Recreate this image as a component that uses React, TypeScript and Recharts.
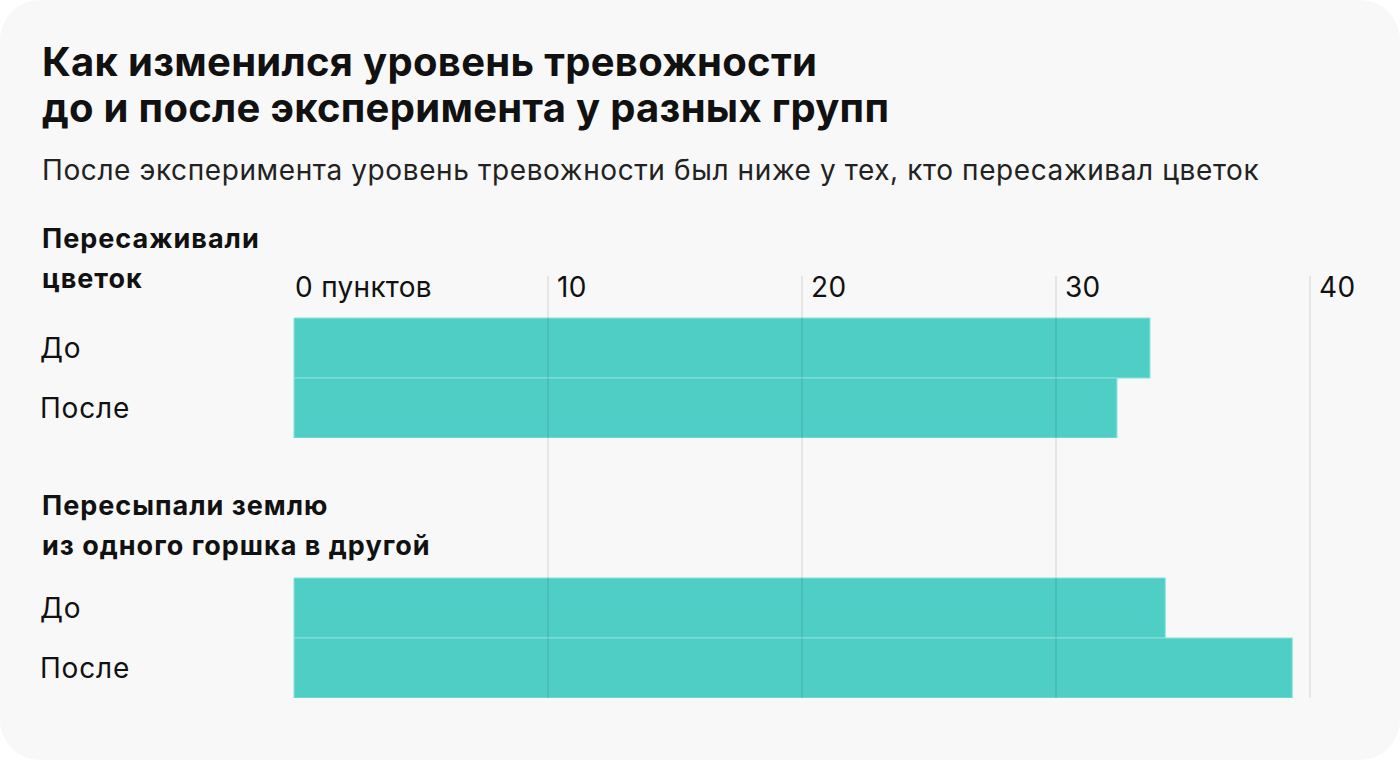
import React from 'react';
import { BarChart, Bar, XAxis, YAxis, ReferenceLine } from 'recharts';

const title = ['Как изменился уровень тревожности', 'до и после эксперимента у разных групп'];
const subtitle = 'После эксперимента уровень тревожности был ниже у тех, кто пересаживал цветок';

const groupNames = [
  ['Пересаживали', 'цветок'],
  ['Пересыпали землю', 'из одного горшка в другой'],
];
const periods = ['До', 'После'];
const transplantValues = [33.7, 32.4];
const soilValues = [34.3, 39.3];

const tickValues = [0, 10, 20, 30, 40];
const gridValues = [10, 20, 30, 40];

const FONT = 'Inter, "Liberation Sans", Arial, sans-serif';
const BAR_FILL = '#4fcec5';
const BAR_STROKE = '#88e2dc';
const CHART_W = 1400;

const toRows = (values: number[]) => periods.map((p, i) => ({ period: p, value: values[i] }));

const PeriodTick = (props: any) => {
  const { y, payload } = props;
  return (
    <text x={40} y={y} dy={10} fontSize={28} letterSpacing={0.8} fontFamily={FONT} fill="#111" textAnchor="start">
      {payload.value}
    </text>
  );
};

const ValueTick = (props: any) => {
  const { x, payload } = props;
  const label = payload.value === 0 ? '0 пунктов' : String(payload.value);
  return (
    <text
      x={payload.value === 0 ? x + 1 : x + 9}
      y={61}
      fontSize={28}
      letterSpacing={0.3}
      fontFamily={FONT}
      fill="#111"
      textAnchor="start"
    >
      {label}
    </text>
  );
};

const GroupChart = ({ values, height, padTop, showTicks }: { values: number[]; height: number; padTop: number; showTicks: boolean }) => (
  <BarChart
    width={CHART_W}
    height={height}
    data={toRows(values)}
    layout="vertical"
    margin={{ top: 0, right: 90, bottom: 0, left: 0 }}
    barCategoryGap={0}
  >
    <XAxis
      type="number"
      domain={[0, 40]}
      ticks={tickValues}
      orientation="top"
      height={showTicks ? 40 : 0}
      axisLine={false}
      tickLine={false}
      hide={!showTicks}
      tick={<ValueTick />}
      interval={0}
    />
    <YAxis
      type="category"
      dataKey="period"
      width={294}
      axisLine={false}
      tickLine={false}
      padding={{ top: padTop, bottom: 0 }}
      tick={<PeriodTick />}
    />
    <Bar dataKey="value" fill={BAR_FILL} stroke={BAR_STROKE} strokeWidth={1} isAnimationActive={false} />
    {gridValues.map((v) => (
      <ReferenceLine key={v} x={v} stroke="#000" strokeOpacity={0.075} strokeWidth={2} />
    ))}
  </BarChart>
);

const GroupTitle = ({ lines, top }: { lines: string[]; top: number }) => (
  <div
    style={{
      position: 'absolute',
      left: 42,
      top,
      fontFamily: FONT,
      fontWeight: 700,
      fontSize: 27,
      letterSpacing: 1,
      lineHeight: '40px',
      color: '#111',
      whiteSpace: 'nowrap',
    }}
  >
    {lines.map((l) => (
      <div key={l}>{l}</div>
    ))}
  </div>
);

export default function App() {
  return (
    <div style={{ position: 'absolute', left: 0, top: 0, width: 1400, height: 760, background: '#fff' }}>
      <div
        style={{
          position: 'absolute',
          left: 0,
          top: 0,
          width: 1400,
          height: 760,
          background: '#f8f8f8',
          borderRadius: 40,
          overflow: 'hidden',
        }}
      >
        <div
          style={{
            position: 'absolute',
            left: 42,
            top: 39,
            fontFamily: FONT,
            fontWeight: 700,
            fontSize: 40,
            letterSpacing: 0.3,
            lineHeight: '46px',
            color: '#111',
            whiteSpace: 'nowrap',
          }}
        >
          {title.map((l) => (
            <div key={l}>{l}</div>
          ))}
        </div>
        <div
          style={{
            position: 'absolute',
            left: 42,
            top: 153,
            fontFamily: FONT,
            fontSize: 28,
            letterSpacing: 0.6,
            lineHeight: '34px',
            color: '#222',
            whiteSpace: 'nowrap',
          }}
        >
          {subtitle}
        </div>

        <GroupTitle lines={groupNames[0]} top={219} />
        <GroupTitle lines={groupNames[1]} top={486} />

        <div style={{ position: 'absolute', left: 0, top: 236 }}>
          <GroupChart values={transplantValues} height={202} padTop={42} showTicks />
        </div>
        <div style={{ position: 'absolute', left: 0, top: 438 }}>
          <GroupChart values={soilValues} height={260} padTop={140} showTicks={false} />
        </div>
      </div>
    </div>
  );
}
